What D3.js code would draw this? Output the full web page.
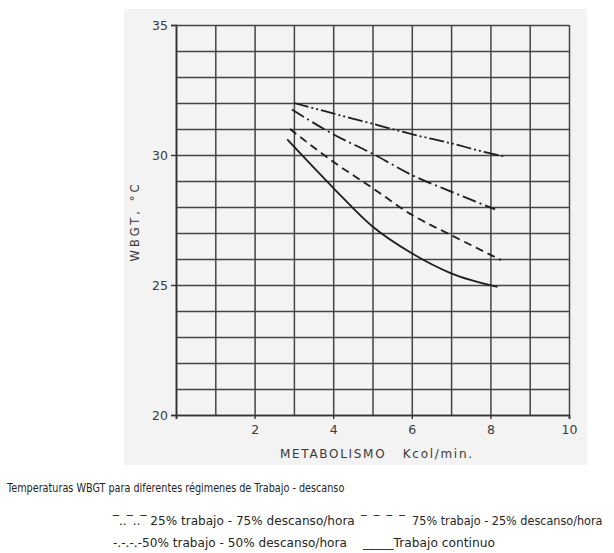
<!DOCTYPE html>
<html>
<head>
<meta charset="utf-8">
<script src="https://cdn.jsdelivr.net/npm/d3@7"></script>
<style>
  body { margin: 0; background: #fff; }
  svg { display: block; }
  .hand { font-family: "DejaVu Sans", sans-serif; fill: #3a3a3a; }
  .note { font-family: "DejaVu Sans", sans-serif; fill: #262626; }
</style>
</head>
<body>
<script>
  // Datos (Metabolismo kcal/min -> WBGT °C)
  const xTicks = [0, 2, 4, 6, 8, 10];
  const yTicks = [20, 25, 30, 35];

  const metab25 = [3.0, 4.0, 5.0, 6.0, 7.0, 8.0, 8.4];
  const wbgt25 = [32.0, 31.6, 31.2, 30.8, 30.45, 30.06, 29.93];

  const metab50 = [2.95, 4.0, 5.0, 6.0, 7.0, 8.12];
  const wbgt50 = [31.75, 30.8, 30.05, 29.23, 28.59, 27.91];

  const metab75 = [2.9, 4.0, 5.0, 6.0, 7.0, 8.27];
  const wbgt75 = [31.0, 29.74, 28.73, 27.7, 26.92, 25.96];

  const metabCont = [2.83, 4.0, 5.0, 6.0, 7.0, 8.18];
  const wbgtCont = [30.6, 28.74, 27.25, 26.22, 25.45, 24.93];

  const caption = "Temperaturas WBGT para diferentes régimenes de Trabajo - descanso";
  const legendLabels = [
    "‾..‾..‾ 25% trabajo - 75% descanso/hora",
    "‾  ‾  ‾  ‾  75% trabajo - 25% descanso/hora",
    "-.-.-.-50% trabajo - 50% descanso/hora",
    "_____Trabajo continuo"
  ];

  /***** Configuración *****/
  const width = 614, height = 553;
  const plot = { left: 176, right: 569, top: 25, bottom: 415 };

  const x = d3.scaleLinear().domain([0, 10]).range([plot.left, plot.right]);
  const y = d3.scaleLinear().domain([20, 35]).range([plot.bottom, plot.top]);

  const svg = d3.select("body").append("svg")
    .attr("width", width)
    .attr("height", height);

  // fondo gris claro del escaneo
  svg.append("rect")
    .attr("x", 124).attr("y", 9)
    .attr("width", 463).attr("height", 456)
    .attr("fill", "#f3f3f3");

  /***** Cuadrícula *****/
  const gridX = d3.axisBottom(x)
    .tickValues(d3.range(0, 11, 1))
    .tickSize(-(plot.bottom - plot.top))
    .tickFormat("");
  svg.append("g")
    .attr("transform", "translate(0," + plot.bottom + ")")
    .call(gridX)
    .call(g => g.select(".domain").remove())
    .selectAll("line")
    .attr("stroke", "#444")
    .attr("stroke-width", 1.5);

  const gridY = d3.axisLeft(y)
    .tickValues(d3.range(20, 36, 1))
    .tickSize(-(plot.right - plot.left))
    .tickFormat("");
  svg.append("g")
    .attr("transform", "translate(" + plot.left + ",0)")
    .call(gridY)
    .call(g => g.select(".domain").remove())
    .selectAll("line")
    .attr("stroke", "#444")
    .attr("stroke-width", 1.5);

  /***** Ejes *****/
  const xAxis = d3.axisBottom(x)
    .tickValues(xTicks)
    .tickSize(4)
    .tickPadding(6)
    .tickFormat(d => d === 0 ? "" : d);
  svg.append("g")
    .attr("transform", "translate(0," + plot.bottom + ")")
    .call(xAxis)
    .call(g => g.select(".domain").attr("stroke", "#333").attr("stroke-width", 1.6))
    .call(g => g.selectAll("line").attr("stroke", "#333").attr("stroke-width", 1.4))
    .selectAll("text")
    .attr("class", "hand")
    .attr("font-size", 12.5);

  const yAxis = d3.axisLeft(y)
    .tickValues(yTicks)
    .tickSize(5)
    .tickPadding(3);
  svg.append("g")
    .attr("transform", "translate(" + plot.left + ",0)")
    .call(yAxis)
    .call(g => g.select(".domain").attr("stroke", "#333").attr("stroke-width", 1.6))
    .call(g => g.selectAll("line").attr("stroke", "#333").attr("stroke-width", 1.4))
    .selectAll("text")
    .attr("class", "hand")
    .attr("font-size", 12.5);

  svg.append("text")
    .attr("class", "hand")
    .attr("x", 376).attr("y", 458)
    .attr("text-anchor", "middle")
    .attr("font-size", 12)
    .attr("textLength", 192)
    .attr("lengthAdjust", "spacing")
    .attr("xml:space", "preserve")
    .text("METABOLISMO   Kcol/min.");

  svg.append("text")
    .attr("class", "hand")
    .attr("transform", "translate(139,223) rotate(-90)")
    .attr("text-anchor", "middle")
    .attr("font-size", 11.5)
    .attr("textLength", 77)
    .attr("lengthAdjust", "spacing")
    .text("WBGT, °C");

  /***** Curvas *****/
  const series = [
    { xs: metab25, ys: wbgt25, dash: "15,3,2,3,2,3" },
    { xs: metab50, ys: wbgt50, dash: "14,4,2,4" },
    { xs: metab75, ys: wbgt75, dash: "8,5" },
    { xs: metabCont, ys: wbgtCont, dash: null }
  ];

  const line = d3.line()
    .x(d => x(d[0]))
    .y(d => y(d[1]))
    .curve(d3.curveMonotoneX);

  svg.append("g")
    .selectAll("path")
    .data(series)
    .join("path")
    .attr("d", s => line(d3.zip(s.xs, s.ys)))
    .attr("fill", "none")
    .attr("stroke", "#1e1e1e")
    .attr("stroke-width", 1.8)
    .attr("stroke-dasharray", s => s.dash);

  /***** Leyenda *****/
  // texto estrechado con una escala horizontal para ocupar el ancho del original
  function fitText(sel, x0, y0, w) {
    const len = sel.node().getComputedTextLength();
    sel.attr("transform", "translate(" + x0 + "," + y0 + ") scale(" + (w / len) + ",1)");
  }

  svg.append("text")
    .attr("class", "note")
    .attr("font-size", 12)
    .text(caption)
    .call(fitText, 7, 492, 338);

  const legendPos = [
    { x: 113, y: 525, w: 242 },
    { x: 361, y: 525, w: 242 },
    { x: 113, y: 547, w: 234 },
    { x: 363, y: 547, w: 132 }
  ];

  svg.append("g")
    .selectAll("text")
    .data(legendLabels)
    .join("text")
    .attr("class", "note")
    .attr("xml:space", "preserve")
    .attr("font-size", 12.5)
    .text(d => d)
    .each(function(d, i) {
      fitText(d3.select(this), legendPos[i].x, legendPos[i].y, legendPos[i].w);
    });
</script>
</body>
</html>
